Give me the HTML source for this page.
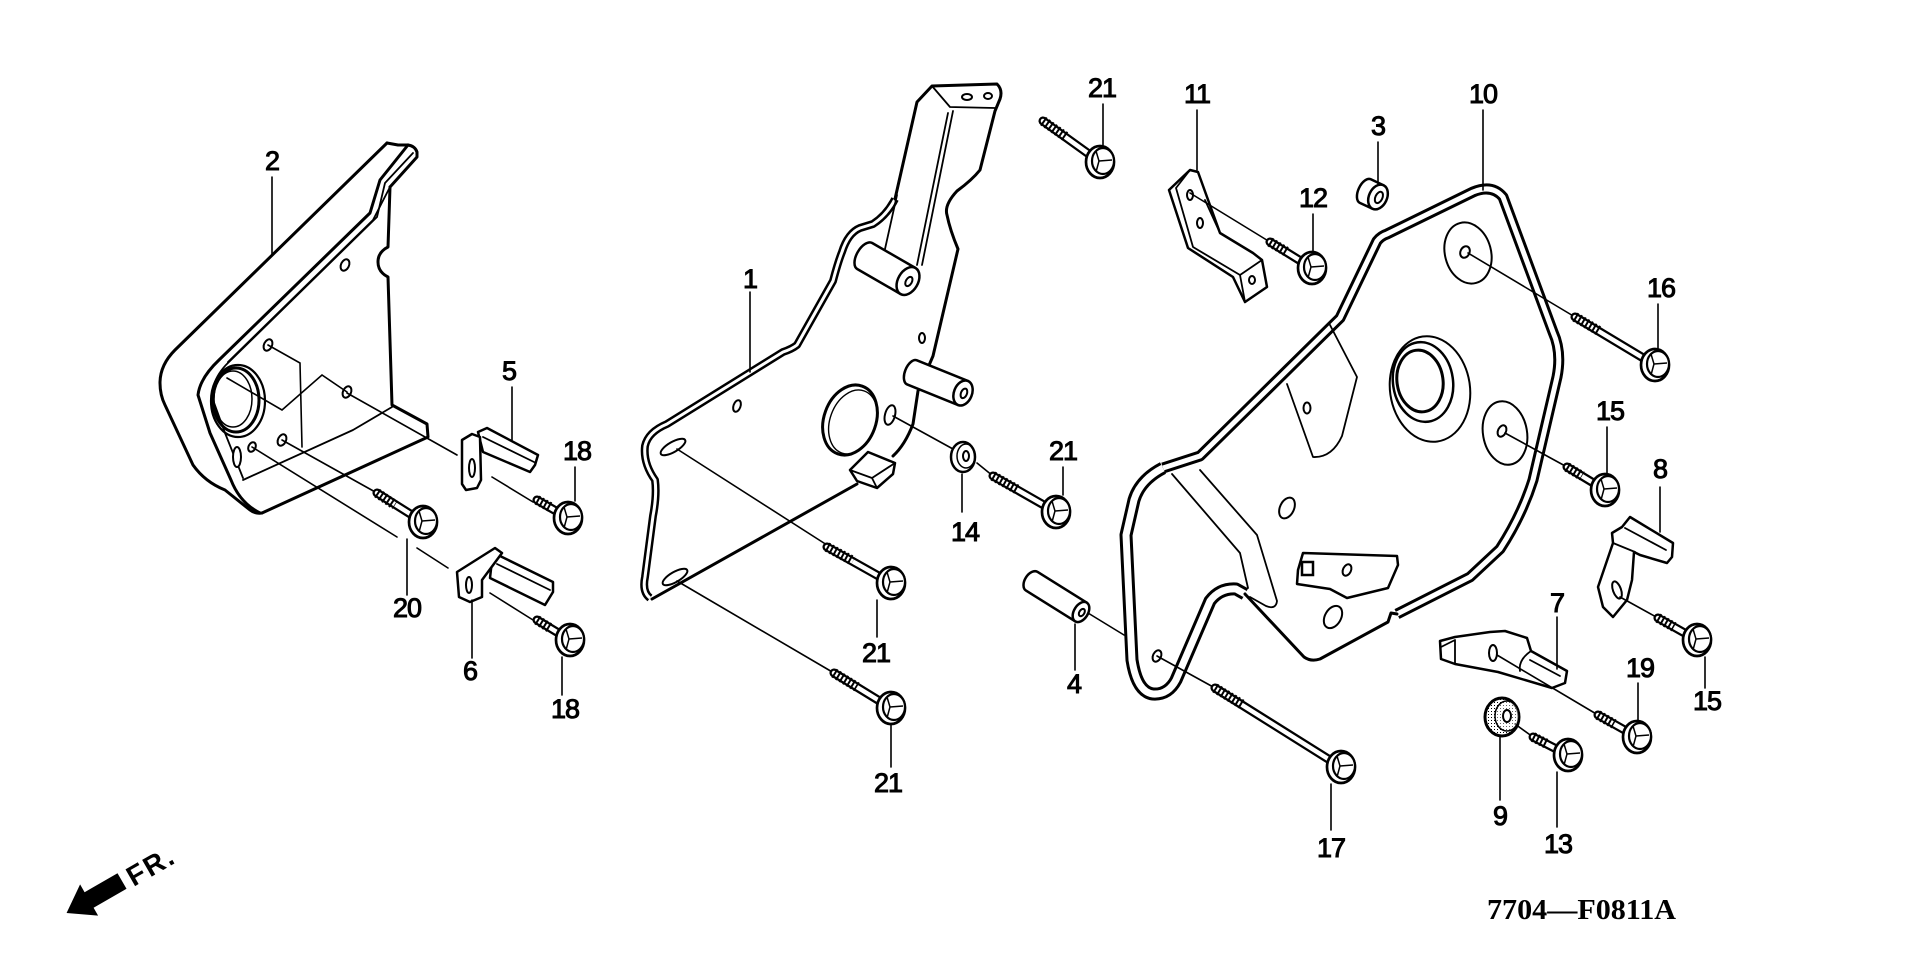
<!DOCTYPE html>
<html><head><meta charset="utf-8"><style>
html,body{margin:0;padding:0;background:#fff;width:1920px;height:958px;overflow:hidden}
svg{display:block}
.t{font-family:"Liberation Sans",sans-serif;font-size:27px;text-anchor:middle;fill:#000;stroke:#000;stroke-width:1;letter-spacing:-1px}
.o{fill:none;stroke:#000;stroke-width:3;stroke-linejoin:round;stroke-linecap:round}
.ow{fill:#fff;stroke:#000;stroke-width:2.5;stroke-linejoin:round;stroke-linecap:round}
.m{fill:none;stroke:#000;stroke-width:1.8;stroke-linejoin:round;stroke-linecap:round}
.l{fill:none;stroke:#000;stroke-width:1.6;stroke-linecap:round}
.sk{stroke:#000;stroke-width:9;stroke-linecap:round}
.sw{stroke:#fff;stroke-width:4.5;stroke-linecap:round}
.th{stroke:#000;stroke-width:10;stroke-dasharray:2 2.2}
.h{fill:#fff;stroke:#000;stroke-width:2}
</style></head><body>
<svg width="1920" height="958" viewBox="0 0 1920 958" xmlns="http://www.w3.org/2000/svg">
<defs>
<g id="hd">
<ellipse cx="0" cy="0" rx="14" ry="16" fill="#fff" stroke="#000" stroke-width="2.7"/>
<ellipse cx="3" cy="-1" rx="11" ry="13" fill="#fff" stroke="#000" stroke-width="2.2"/>
<path d="M-4,-11 L-1,-1 L-4,10 M-1,-1 L12,-2" fill="none" stroke="#000" stroke-width="1.5"/>
</g>
<pattern id="dots" width="3" height="3" patternUnits="userSpaceOnUse"><rect width="1" height="1" fill="#000"/></pattern>
</defs>

<!-- ========== PART 2 ========== -->
<path class="o" d="M387,143 L175,350 Q160,365 160,383 Q160,395 165,405 L193,465 Q205,482 225,490 L250,510 Q255,514 262,513"/>
<path class="o" d="M387,143 L398,145 L408,145 Q415,146 417,152 L417,157 L390,187"/>
<path class="o" d="M408,145 L380,180 L370,213 L219,360 Q200,378 198,395 L210,433 L231,480 Q240,503 260,513"/>
<path class="m" d="M413,153 L385,183 L377,217 L231,360 Q212,377 212,397 L225,433 L243,478"/>
<path class="m" d="M390,187 L373,220 L228,362"/>
<path class="o" d="M390,187 L388,247 Q378,252 378,262 Q378,272 388,277 L392,405 L427,424 L428,437 L262,513"/>
<path class="m" d="M392,407 L353,430 L243,480"/>
<ellipse cx="238" cy="401" rx="27" ry="36" fill="none" stroke="#000" stroke-width="2.2"/>
<ellipse cx="236" cy="400" rx="23" ry="32" fill="none" stroke="#000" stroke-width="3"/>
<ellipse cx="233" cy="399" rx="19" ry="28" fill="none" stroke="#000" stroke-width="1.5"/>
<ellipse cx="345" cy="265" rx="4" ry="6" transform="rotate(25 345 265)" class="h"/>
<ellipse cx="268" cy="345" rx="4" ry="6" transform="rotate(25 268 345)" class="h"/>
<ellipse cx="347" cy="392" rx="4" ry="6" transform="rotate(25 347 392)" class="h"/>
<ellipse cx="282" cy="440" rx="4" ry="6" transform="rotate(25 282 440)" class="h"/>
<ellipse cx="252" cy="447" rx="3.5" ry="5" transform="rotate(25 252 447)" class="h"/>
<ellipse cx="237" cy="457" rx="4" ry="10" class="h"/>
<path class="l" d="M268,345 L300,363 L302,447"/>
<path class="l" d="M227,378 L282,410 L322,375 L347,392"/>
<path class="l" d="M347,393 L457,455"/>
<path class="l" d="M282,440 L377,493"/>
<path class="l" d="M252,447 L397,537 M417,548 L448,568"/>

<!-- bracket 5 -->
<polygon class="ow" points="478,432 487,428 538,455 535,465 530,472 483,452"/>
<path class="m" d="M483,437 L534,462"/>
<polygon class="ow" points="462,440 472,434 480,437 481,480 477,488 466,490 462,484"/>
<ellipse cx="472" cy="468" rx="3" ry="9" class="h"/>
<path class="l" d="M492,477 L533,502"/>
<!-- bracket 6 -->
<polygon class="ow" points="492,560 500,556 553,582 553,592 545,605 490,578"/>
<path class="m" d="M497,564 L550,590"/>
<polygon class="ow" points="457,572 495,548 502,553 482,580 482,597 470,602 459,597"/>
<ellipse cx="469" cy="585" rx="3" ry="8" class="h"/>
<path class="l" d="M490,593 L533,620"/>

<!-- ========== PART 1 ========== -->
<path d="M650,598 Q642,592 645,577 L653,516 Q657,495 655,480 Q643,463 645,446 Q648,432 667,424 L783,352 Q792,349 797,345 L833,281 Q838,262 842,252 Q848,233 860,228 L873,224 Q887,215 895,199" fill="none" stroke="#000" stroke-width="8" stroke-linejoin="round"/>
<path d="M650,598 Q642,592 645,577 L653,516 Q657,495 655,480 Q643,463 645,446 Q648,432 667,424 L783,352 Q792,349 797,345 L833,281 Q838,262 842,252 Q848,233 860,228 L873,224 Q887,215 895,199" fill="none" stroke="#fff" stroke-width="3" stroke-linejoin="round"/>
<path class="o" d="M895,199 L917,102 L932,86 L997,84 Q1003,90 1000,99 L995,111 L980,170 Q972,180 957,191 Q944,205 947,215 Q950,230 958,249 L933,356 L918,391 L913,424 Q905,445 893,456"/>
<path class="o" d="M857,484 L652,599"/>
<path class="m" d="M932,86 L950,107 L995,108"/>
<ellipse cx="967" cy="97" rx="5" ry="3" class="h"/>
<ellipse cx="988" cy="96" rx="4" ry="3" class="h"/>
<path class="m" d="M953,111 L922,265 M948,113 L917,265 M897,195 L885,249"/>
<g transform="translate(908,281) rotate(30)">
<path d="M0,-15 L-50,-15 A8,15 0 0 0 -50,15 L0,15" class="ow"/>
<ellipse cx="0" cy="0" rx="10" ry="15" class="ow"/>
<ellipse cx="1" cy="0" rx="3" ry="5" class="h"/>
</g>
<ellipse cx="922" cy="338" rx="3" ry="5" class="h"/>
<g transform="translate(963,393) rotate(22)">
<path d="M0,-13 L-55,-13 A7,13 0 0 0 -55,13 L0,13" class="ow"/>
<ellipse cx="0" cy="0" rx="9" ry="13" class="ow"/>
<ellipse cx="1" cy="0" rx="3" ry="5" class="h"/>
</g>
<ellipse cx="850" cy="420" rx="26" ry="36" transform="rotate(20 850 420)" fill="none" stroke="#000" stroke-width="3"/>
<ellipse cx="853" cy="422" rx="23" ry="33" transform="rotate(20 853 422)" fill="none" stroke="#000" stroke-width="1.4"/>
<ellipse cx="890" cy="415" rx="5" ry="10" transform="rotate(15 890 415)" class="h"/>
<ellipse cx="737" cy="406" rx="3.5" ry="6" transform="rotate(20 737 406)" class="h"/>
<ellipse cx="673" cy="447" rx="14" ry="5" transform="rotate(-30 673 447)" class="h"/>
<ellipse cx="675" cy="577" rx="14" ry="5" transform="rotate(-30 675 577)" class="h"/>
<polygon class="ow" points="850,470 868,452 895,463 893,474 877,488 857,481"/>
<path class="m" d="M850,470 L872,478 L895,463 M872,478 L877,488"/>
<path class="l" d="M677,449 L827,545"/>
<path class="l" d="M677,581 L834,673"/>
<path class="l" d="M893,416 L953,449 M977,463 L993,476"/>
<ellipse cx="963" cy="457" rx="12" ry="15" fill="#fff" stroke="#000" stroke-width="2.5"/>
<ellipse cx="966" cy="456" rx="9" ry="12" fill="none" stroke="#000" stroke-width="1.5"/>
<ellipse cx="966" cy="456" rx="3" ry="5" class="h"/>

<!-- ========== PART 10 ========== -->
<path d="M1163,468 L1200,456 L1340,318 L1377,241 Q1381,236 1387,234 L1473,192 Q1492,184 1503,197 L1553,332 Q1562,352 1557,377 L1533,480 Q1522,515 1500,549 L1470,577 L1397,614" fill="none" stroke="#000" stroke-width="11" stroke-linejoin="round"/>
<path d="M1163,468 L1200,456 L1340,318 L1377,241 Q1381,236 1387,234 L1473,192 Q1492,184 1503,197 L1553,332 Q1562,352 1557,377 L1533,480 Q1522,515 1500,549 L1470,577 L1397,614" fill="none" stroke="#fff" stroke-width="5" stroke-linejoin="round"/>
<path d="M1163,468 Q1140,480 1134,500 L1126,535 L1132,660 Q1137,692 1153,694 Q1168,695 1176,680 L1210,601 Q1220,588 1236,589 L1245,594" fill="none" stroke="#000" stroke-width="13" stroke-linejoin="round"/>
<path d="M1163,468 Q1140,480 1134,500 L1126,535 L1132,660 Q1137,692 1153,694 Q1168,695 1176,680 L1210,601 Q1220,588 1236,589 L1245,594" fill="none" stroke="#fff" stroke-width="7" stroke-linejoin="round"/>
<path class="o" d="M1245,594 L1304,657 Q1311,662 1320,659 L1388,622 L1391,613 L1397,614"/>
<path class="m" d="M1330,325 L1357,377 L1342,436 Q1332,458 1313,457 L1287,384"/>
<ellipse cx="1307" cy="408" rx="3.5" ry="5.5" class="h"/>
<path class="m" d="M1200,470 L1257,535 L1277,601 Q1276,610 1266,606 L1250,597 M1172,474 L1240,553 L1248,588"/>
<ellipse cx="1287" cy="508" rx="7" ry="11" transform="rotate(25 1287 508)" class="h"/>
<polygon class="ow" points="1303,553 1397,556 1398,565 1388,588 1347,598 1330,589 1297,584 1298,570"/>
<rect x="1302" y="562" width="11" height="13" fill="#fff" stroke="#000" stroke-width="2.5"/>
<ellipse cx="1347" cy="570" rx="4" ry="6" transform="rotate(25 1347 570)" class="h"/>
<ellipse cx="1333" cy="617" rx="8" ry="12" transform="rotate(30 1333 617)" class="h"/>
<ellipse cx="1157" cy="656" rx="4" ry="6" transform="rotate(25 1157 656)" class="h"/>
<ellipse cx="1468" cy="253" rx="23" ry="31" transform="rotate(-15 1468 253)" fill="none" stroke="#000" stroke-width="2"/>
<ellipse cx="1465" cy="252" rx="4.5" ry="6" transform="rotate(25 1465 252)" class="h"/>
<ellipse cx="1430" cy="389" rx="40" ry="53" transform="rotate(-8 1430 389)" fill="none" stroke="#000" stroke-width="2"/>
<ellipse cx="1423" cy="382" rx="30" ry="40" transform="rotate(-8 1423 382)" fill="none" stroke="#000" stroke-width="2.5"/>
<ellipse cx="1420" cy="381" rx="23" ry="31" transform="rotate(-8 1420 381)" fill="none" stroke="#000" stroke-width="3"/>
<ellipse cx="1505" cy="433" rx="22" ry="32" transform="rotate(-10 1505 433)" fill="none" stroke="#000" stroke-width="2"/>
<ellipse cx="1502" cy="431" rx="4" ry="6" transform="rotate(25 1502 431)" class="h"/>
<path class="l" d="M1468,253 L1575,317"/>
<path class="l" d="M1505,433 L1567,467"/>
<path class="l" d="M1157,656 L1215,688"/>

<!-- part 4 -->
<path class="l" d="M1088,613 L1124,635"/>
<g transform="translate(1081,612) rotate(32)">
<path d="M0,-11 L-58,-11 A7,11 0 0 0 -58,11 L0,11" class="ow"/>
<ellipse cx="0" cy="0" rx="7" ry="11" class="ow"/>
<ellipse cx="1" cy="0" rx="2.5" ry="4" class="h"/>
</g>

<!-- part 3 -->
<g transform="translate(1378,197) rotate(25)">
<path d="M0,-13 L-14,-13 A7,13 0 0 0 -14,13 L0,13" class="ow"/>
<ellipse cx="0" cy="0" rx="9" ry="13" class="ow"/>
<ellipse cx="1" cy="0" rx="3.5" ry="6" class="h"/>
</g>

<!-- part 11 -->
<polygon class="ow" points="1169,190 1190,170 1198,172 1220,233 1253,253 1262,260 1267,287 1245,302 1233,277 1188,248"/>
<path class="m" d="M1190,170 L1176,188 L1193,247 L1240,275 L1245,302 M1240,275 L1262,260 M1205,200 L1220,233"/>
<ellipse cx="1190" cy="195" rx="3" ry="5" class="h"/>
<ellipse cx="1200" cy="223" rx="3" ry="5" class="h"/>
<ellipse cx="1252" cy="280" rx="3" ry="4" class="h"/>
<path class="l" d="M1190,193 L1270,242"/>

<!-- part 8 -->
<polygon class="ow" points="1622,527 1630,517 1673,543 1672,557 1667,563 1640,555 1634,552 1632,580 1627,600 1613,617 1603,607 1598,587 1613,543 1612,533"/>
<path class="m" d="M1625,528 L1666,550 M1613,543 L1635,552"/>
<ellipse cx="1617" cy="590" rx="4" ry="9" transform="rotate(-20 1617 590)" class="h"/>
<path class="l" d="M1620,597 L1658,618"/>

<!-- part 7 -->
<polygon class="ow" points="1440,641 1455,637 1490,632 1505,631 1527,638 1531,651 1567,671 1565,683 1552,688 1498,672 1455,664 1441,659"/>
<path class="m" d="M1441,647 L1455,640 L1455,664 M1531,651 Q1518,660 1520,671 M1530,660 L1560,676"/>
<ellipse cx="1493" cy="653" rx="4" ry="8" class="h"/>
<path class="l" d="M1497,655 L1598,715"/>

<!-- part 9 nut -->
<path class="l" d="M1515,724 L1533,737"/>
<ellipse cx="1502" cy="717" rx="17" ry="19" fill="url(#dots)" stroke="#000" stroke-width="3"/>
<ellipse cx="1507" cy="716" rx="12" ry="15" fill="#fff" stroke="#000" stroke-width="1.5" fill-opacity="0.4"/>
<ellipse cx="1507" cy="716" rx="4" ry="6" class="h"/>

<!-- ========== BOLTS ========== -->
<line x1="1043" y1="121" x2="1100" y2="162" class="sk"/><line x1="1043" y1="121" x2="1100" y2="162" class="sw"/><line x1="1043" y1="121" x2="1066" y2="137" class="th"/><use href="#hd" x="1100" y="162"/>
<line x1="1270" y1="242" x2="1312" y2="268" class="sk"/><line x1="1270" y1="242" x2="1312" y2="268" class="sw"/><line x1="1270" y1="242" x2="1287" y2="252" class="th"/><use href="#hd" x="1312" y="268"/>
<line x1="1575" y1="317" x2="1655" y2="365" class="sk"/><line x1="1575" y1="317" x2="1655" y2="365" class="sw"/><line x1="1575" y1="317" x2="1599" y2="331" class="th"/><use href="#hd" x="1655" y="365"/>
<line x1="1567" y1="467" x2="1605" y2="490" class="sk"/><line x1="1567" y1="467" x2="1605" y2="490" class="sw"/><line x1="1567" y1="467" x2="1582" y2="476" class="th"/><use href="#hd" x="1605" y="490"/>
<line x1="1658" y1="618" x2="1697" y2="640" class="sk"/><line x1="1658" y1="618" x2="1697" y2="640" class="sw"/><line x1="1658" y1="618" x2="1674" y2="627" class="th"/><use href="#hd" x="1697" y="640"/>
<line x1="1598" y1="715" x2="1637" y2="737" class="sk"/><line x1="1598" y1="715" x2="1637" y2="737" class="sw"/><line x1="1598" y1="715" x2="1614" y2="724" class="th"/><use href="#hd" x="1637" y="737"/>
<line x1="1533" y1="737" x2="1568" y2="755" class="sk"/><line x1="1533" y1="737" x2="1568" y2="755" class="sw"/><line x1="1533" y1="737" x2="1547" y2="744" class="th"/><use href="#hd" x="1568" y="755"/>
<line x1="1215" y1="688" x2="1341" y2="767" class="sk"/><line x1="1215" y1="688" x2="1341" y2="767" class="sw"/><line x1="1215" y1="688" x2="1243" y2="705" class="th"/><use href="#hd" x="1341" y="767"/>
<line x1="993" y1="476" x2="1056" y2="512" class="sk"/><line x1="993" y1="476" x2="1056" y2="512" class="sw"/><line x1="993" y1="476" x2="1018" y2="490" class="th"/><use href="#hd" x="1056" y="512"/>
<line x1="827" y1="547" x2="891" y2="583" class="sk"/><line x1="827" y1="547" x2="891" y2="583" class="sw"/><line x1="827" y1="547" x2="853" y2="561" class="th"/><use href="#hd" x="891" y="583"/>
<line x1="834" y1="673" x2="891" y2="708" class="sk"/><line x1="834" y1="673" x2="891" y2="708" class="sw"/><line x1="834" y1="673" x2="857" y2="687" class="th"/><use href="#hd" x="891" y="708"/>
<line x1="377" y1="493" x2="423" y2="522" class="sk"/><line x1="377" y1="493" x2="423" y2="522" class="sw"/><line x1="377" y1="493" x2="395" y2="505" class="th"/><use href="#hd" x="423" y="522"/>
<line x1="537" y1="500" x2="568" y2="518" class="sk"/><line x1="537" y1="500" x2="568" y2="518" class="sw"/><line x1="537" y1="500" x2="550" y2="507" class="th"/><use href="#hd" x="568" y="518"/>
<line x1="537" y1="620" x2="570" y2="640" class="sk"/><line x1="537" y1="620" x2="570" y2="640" class="sw"/><line x1="537" y1="620" x2="550" y2="628" class="th"/><use href="#hd" x="570" y="640"/>

<!-- ========== LEADERS ========== -->
<path class="l" d="M272,177 L272,255 M750,292 L750,372 M1103,104 L1103,145 M1197,110 L1197,170 M1378,142 L1378,184 M1313,214 L1313,251 M1483,110 L1483,190 M1658,304 L1658,348 M1607,427 L1607,473 M1660,487 L1660,532 M1063,467 L1063,495 M962,474 L962,512 M512,387 L512,440 M575,467 L575,501 M407,539 L407,595 M472,600 L472,658 M562,657 L562,695 M877,600 L877,637 M891,725 L891,767 M1075,624 L1075,670 M1331,784 L1331,830 M1557,617 L1557,669 M1638,683 L1638,720 M1705,657 L1705,688 M1500,737 L1500,800 M1557,772 L1557,827"/>

<!-- ========== LABELS ========== -->
<text class="t" x="272" y="170">2</text>
<text class="t" x="750" y="288">1</text>
<text class="t" x="1102" y="97">21</text>
<text class="t" x="1197" y="103">11</text>
<text class="t" x="1378" y="135">3</text>
<text class="t" x="1313" y="207">12</text>
<text class="t" x="1483" y="103">10</text>
<text class="t" x="1661" y="297">16</text>
<text class="t" x="1610" y="420">15</text>
<text class="t" x="1660" y="478">8</text>
<text class="t" x="1063" y="460">21</text>
<text class="t" x="965" y="541">14</text>
<text class="t" x="509" y="380">5</text>
<text class="t" x="577" y="460">18</text>
<text class="t" x="407" y="617">20</text>
<text class="t" x="470" y="680">6</text>
<text class="t" x="565" y="718">18</text>
<text class="t" x="876" y="662">21</text>
<text class="t" x="888" y="792">21</text>
<text class="t" x="1074" y="693">4</text>
<text class="t" x="1331" y="857">17</text>
<text class="t" x="1557" y="612">7</text>
<text class="t" x="1640" y="677">19</text>
<text class="t" x="1707" y="710">15</text>
<text class="t" x="1500" y="825">9</text>
<text class="t" x="1558" y="853">13</text>

<!-- FR arrow -->
<g transform="translate(122,881) rotate(-30)">
<path d="M0,-9 L-38,-9 L-38,-18 L-64,0 L-38,18 L-38,9 L0,9 Z" fill="#000"/>
<text x="7" y="11" font-family="Liberation Sans, sans-serif" font-weight="bold" font-size="28" letter-spacing="2" fill="#000">FR.</text>
</g>

<!-- footer -->
<text x="1487" y="919" font-family="Liberation Serif, serif" font-weight="bold" font-size="28" textLength="189" lengthAdjust="spacingAndGlyphs" fill="#000">7704—F0811A</text>
</svg>
</body></html>
